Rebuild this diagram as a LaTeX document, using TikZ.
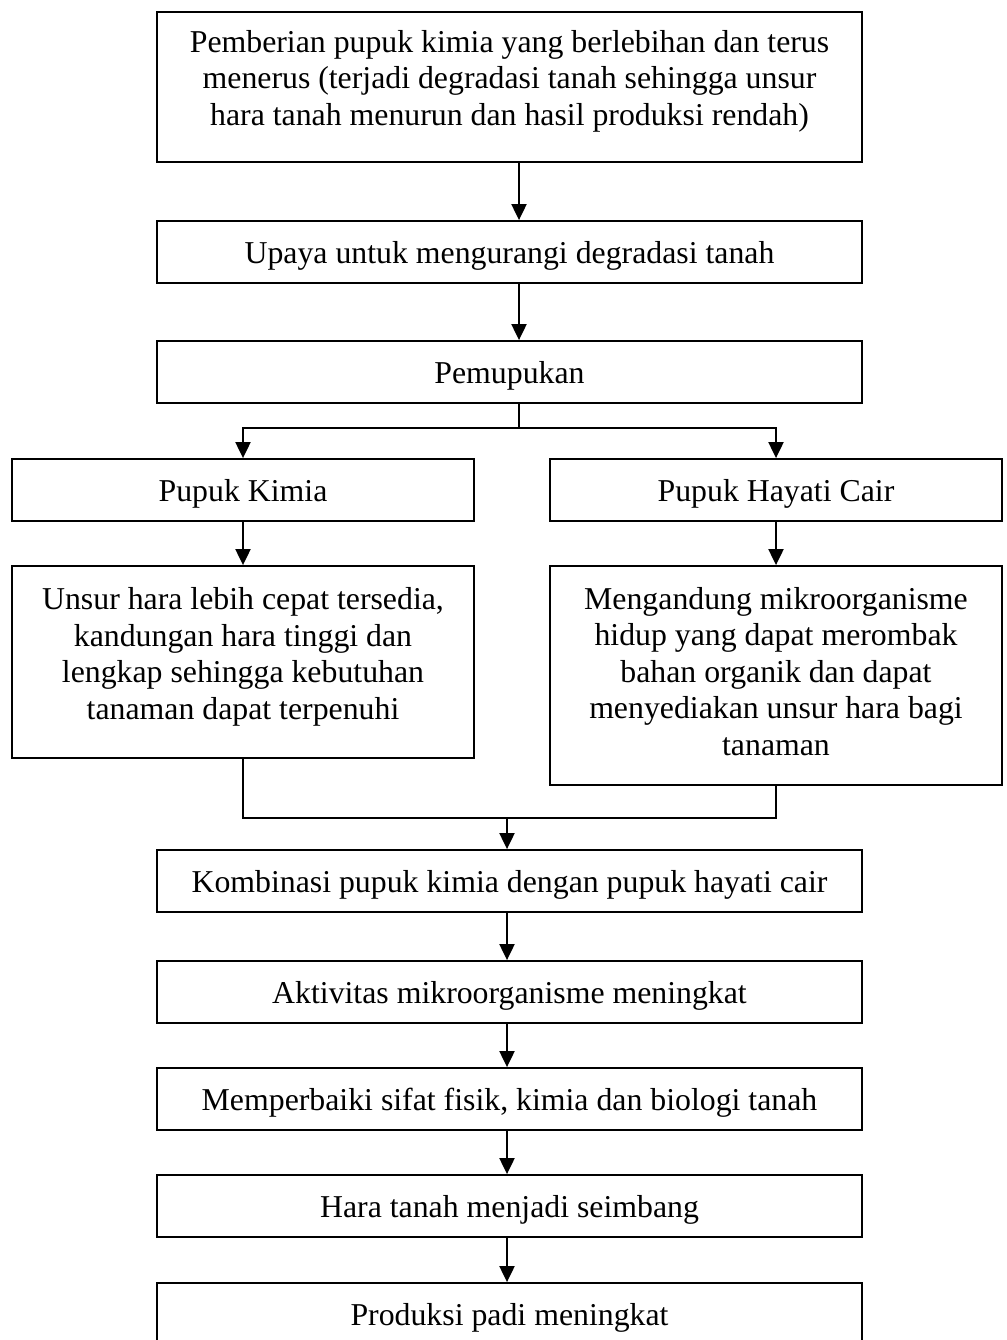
\documentclass[tikz,border=0pt]{standalone}
\usepackage{fontspec}
\setmainfont{Liberation Serif}
\usetikzlibrary{arrows.meta}
\newcommand\fsz{\fontsize{31.8}{36.5}\selectfont}
\tikzset{
  box/.style={draw, line width=1.8pt, inner sep=0pt, align=center, font=\fsz, text height=28pt, text depth=6pt},
  txt/.style={align=center, font=\fsz, inner sep=0pt},
  ln/.style={line width=2pt},
  arr/.style={line width=2pt, -{Triangle[length=16pt,width=15pt]}},
}
\begin{document}
\begin{tikzpicture}[x=1pt,y=-1pt]
\useasboundingbox (0,0) rectangle (1006,1340);
\clip (0,0) rectangle (1006,1340);
\fill[white] (0,0) rectangle (1006,1340);

\node[box, minimum width=705pt, minimum height=150pt,
  label={[txt,yshift=6pt]center:{Pemberian pupuk kimia yang berlebihan dan terus\\menerus (terjadi degradasi tanah sehingga unsur\\hara tanah menurun dan hasil produksi rendah)}}]
  (b1) at (509.5,87) {};
\node[box, minimum width=705pt, minimum height=62pt] (b2) at (509.5,252) {Upaya untuk mengurangi degradasi tanah};
\node[box, minimum width=705pt, minimum height=62pt] (b3) at (509.5,372) {Pemupukan};
\node[box, minimum width=462pt, minimum height=62pt] (b4) at (243,490) {Pupuk Kimia};
\node[box, minimum width=452pt, minimum height=62pt] (b5) at (776,490) {Pupuk Hayati Cair};
\node[box, minimum width=462pt, minimum height=192pt,
  label={[txt,yshift=5pt]center:{Unsur hara lebih cepat tersedia,\\kandungan hara tinggi dan\\lengkap sehingga kebutuhan\\tanaman dapat terpenuhi}}]
  (b6) at (243,662) {};
\node[box, minimum width=452pt, minimum height=219pt,
  label={[txt,yshift=4pt]center:{Mengandung mikroorganisme\\hidup yang dapat merombak\\bahan organik dan dapat\\menyediakan unsur hara bagi\\tanaman}}]
  (b7) at (776,675.5) {};
\node[box, minimum width=705pt, minimum height=62pt] (b8) at (509.5,881) {Kombinasi pupuk kimia dengan pupuk hayati cair};
\node[box, minimum width=705pt, minimum height=62pt] (b9) at (509.5,992) {Aktivitas mikroorganisme meningkat};
\node[box, minimum width=705pt, minimum height=62pt] (b10) at (509.5,1099) {Memperbaiki sifat fisik, kimia dan biologi tanah};
\node[box, minimum width=705pt, minimum height=62pt] (b11) at (509.5,1206) {Hara tanah menjadi seimbang};
\node[box, minimum width=705pt, minimum height=62pt] (b12) at (509.5,1314) {Produksi padi meningkat};

\coordinate (j1) at (519,428);
\coordinate (j2) at (507,818);

\draw[arr] ([xshift=9.5pt]b1.south) -- ([xshift=9.5pt]b2.north);
\draw[arr] ([xshift=9.5pt]b2.south) -- ([xshift=9.5pt]b3.north);
\draw[ln] ([xshift=9.5pt]b3.south) -- (j1);
\draw[arr] (j1) -| (b4);
\draw[arr] (j1) -| (b5);
\draw[arr] (b4) -- (b6);
\draw[arr] (b5) -- (b7);
\draw[ln] (b6.south) |- (j2);
\draw[ln] (b7.south) |- (j2);
\draw[arr] (j2) -- (j2 |- b8.north);
\draw[arr] ([xshift=-2.5pt]b8.south) -- ([xshift=-2.5pt]b9.north);
\draw[arr] ([xshift=-2.5pt]b9.south) -- ([xshift=-2.5pt]b10.north);
\draw[arr] ([xshift=-2.5pt]b10.south) -- ([xshift=-2.5pt]b11.north);
\draw[arr] ([xshift=-2.5pt]b11.south) -- ([xshift=-2.5pt]b12.north);
\end{tikzpicture}
\end{document}
